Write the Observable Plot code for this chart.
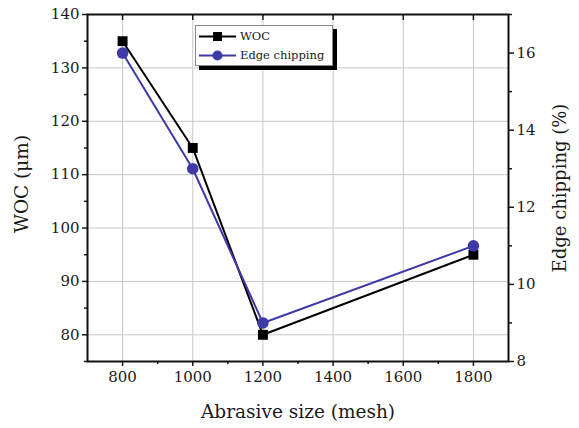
<!DOCTYPE html>
<html>
<head>
<meta charset="utf-8">
<script src="https://cdn.jsdelivr.net/npm/d3@7"></script>
<script src="https://cdn.jsdelivr.net/npm/@observablehq/plot@0.6"></script>
<style>
  body { margin: 0; background: #fff; }
  #wrap { position: relative; width: 579px; height: 428px; font-family: "DejaVu Serif", serif; }
  #legend { position: absolute; left: 195px; top: 25px; width: 136px; height: 39px; background: #fff;
    border: 1px solid #888; box-shadow: 4px 4px 0 #000; font-size: 11.5px; color: #1a1a1a; font-family: "DejaVu Serif", serif; }
  #legend .row { position: absolute; left: 2px; height: 20px; display: flex; align-items: center; }
  #legend svg { margin-right: 2px; }
</style>
</head>
<body>
<div id="wrap"></div>
<script>
const mesh = [800, 1000, 1200, 1800];
const woc = [135, 115, 80, 95];
const edge = [16, 13, 9, 11];
const seriesNames = ["WOC", "Edge chipping"];
const colors = ["#000000", "#3d3aa8"];
const xTicks = [800, 1000, 1200, 1400, 1600, 1800];
const xMinor = [900, 1100, 1300, 1500, 1700];
const leftTicks = [80, 90, 100, 110, 120, 130, 140];
const leftMinor = [75, 85, 95, 105, 115, 125, 135];
const rightTicks = [8, 10, 12, 14, 16];
const rightMinor = [9, 11, 13, 15, 17];
const xLabel = "Abrasive size (mesh)";
const yLeftLabel = "WOC (μm)";
const yRightLabel = "Edge chipping (%)";

const leftDomain = [75, 140];
const rightDomain = [8, 17];
const toLeft = v => leftDomain[0] + (v - rightDomain[0]) * (leftDomain[1] - leftDomain[0]) / (rightDomain[1] - rightDomain[0]);
const fromLeft = v => rightDomain[0] + (v - leftDomain[0]) * (rightDomain[1] - rightDomain[0]) / (leftDomain[1] - leftDomain[0]);

const wocData = mesh.map((m, i) => ({mesh: m, v: woc[i]}));
const edgeData = mesh.map((m, i) => ({mesh: m, v: edge[i]}));
const ink = "#1a1a1a";
const serif = "DejaVu Serif";

const plot = Plot.plot({
  width: 579,
  height: 428,
  marginLeft: 87,
  marginRight: 71,
  marginTop: 14,
  marginBottom: 67,
  style: {background: "transparent", color: ink},
  x: {domain: [700, 1900]},
  y: {domain: leftDomain},
  marks: [
    Plot.gridX(xTicks, {stroke: "#c8c8c8", strokeOpacity: 1, strokeWidth: 1}),
    Plot.gridY(leftTicks, {stroke: "#c8c8c8", strokeOpacity: 1, strokeWidth: 1}),
    Plot.axisX({ticks: xTicks, tickFormat: d => String(d), tickSize: 5, tickPadding: 5, fontSize: 15, fontFamily: serif, label: null, strokeWidth: 1.5, fill: ink}),
    Plot.axisX({ticks: xMinor, tickSize: 3, text: null, label: null, strokeWidth: 1.5}),
    Plot.axisX({anchor: "top", ticks: xTicks, tickSize: -5, text: null, label: null, strokeWidth: 1.5}),
    Plot.axisY({ticks: leftTicks, tickSize: 5, tickPadding: 3, fontSize: 15, fontFamily: serif, label: null, strokeWidth: 1.5, fill: ink}),
    Plot.axisY({ticks: leftMinor, tickSize: 3, text: null, label: null, strokeWidth: 1.5}),
    Plot.axisY({anchor: "right", ticks: rightTicks.map(toLeft), tickFormat: d => String(Math.round(fromLeft(d))), tickSize: 5, tickPadding: 3, fontSize: 15, fontFamily: serif, label: null, strokeWidth: 1.5, fill: ink}),
    Plot.axisY({anchor: "right", ticks: rightMinor.map(toLeft), tickSize: 3, text: null, label: null, strokeWidth: 1.5}),
    Plot.frame({stroke: "#111", strokeWidth: 2}),
    Plot.line(wocData, {x: "mesh", y: "v", stroke: colors[0], strokeWidth: 2}),
    Plot.dot(wocData, {x: "mesh", y: "v", symbol: "square", r: 5.6, fill: colors[0], stroke: null}),
    Plot.line(edgeData, {x: "mesh", y: d => toLeft(d.v), stroke: colors[1], strokeWidth: 2}),
    Plot.dot(edgeData, {x: "mesh", y: d => toLeft(d.v), symbol: "circle", r: 5.8, fill: colors[1], stroke: null}),
    Plot.text([xLabel], {frameAnchor: "bottom", dy: 51, fontSize: 18.5, fontFamily: serif, fill: ink, textAnchor: "middle", lineAnchor: "middle"}),
    Plot.text([yLeftLabel], {frameAnchor: "left", dx: -65, dy: -4, rotate: -90, fontSize: 18.5, fontFamily: serif, fill: ink, textAnchor: "middle", lineAnchor: "middle"}),
    Plot.text([yRightLabel], {frameAnchor: "right", dx: 52, rotate: -90, fontSize: 18, fontFamily: serif, fill: ink, textAnchor: "middle", lineAnchor: "middle"})
  ]
});

const wrap = document.getElementById("wrap");
wrap.appendChild(plot);

const legend = document.createElement("div");
legend.id = "legend";
const symbols = ["square", "circle"];
seriesNames.forEach((name, i) => {
  const row = document.createElement("div");
  row.className = "row";
  row.style.top = (i * 19) + "px";
  const mark = symbols[i] === "square"
    ? `<rect x="15" y="5" width="9" height="9" fill="${colors[i]}"/>`
    : `<circle cx="19.5" cy="9.5" r="5" fill="${colors[i]}"/>`;
  row.innerHTML = `<svg width="40" height="19"><line x1="1" x2="38" y1="9.5" y2="9.5" stroke="${colors[i]}" stroke-width="2"/>${mark}</svg><span>${name}</span>`;
  legend.appendChild(row);
});
wrap.appendChild(legend);
</script>
</body>
</html>
